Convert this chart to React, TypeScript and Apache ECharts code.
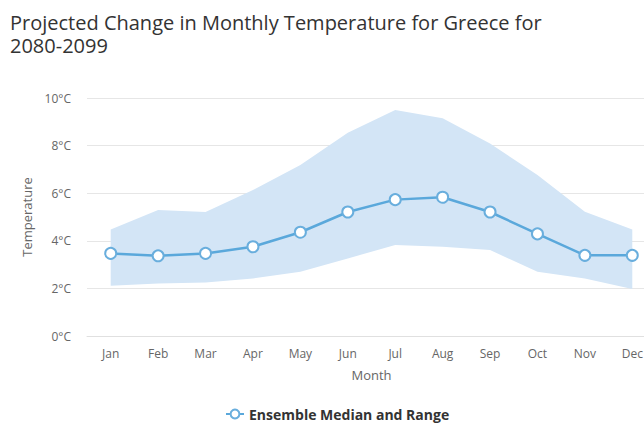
import React, { useEffect, useRef } from "react";
import * as echarts from "echarts";

const months = ["Jan", "Feb", "Mar", "Apr", "May", "Jun", "Jul", "Aug", "Sep", "Oct", "Nov", "Dec"];
const median = [3.47, 3.37, 3.47, 3.75, 4.36, 5.21, 5.73, 5.83, 5.21, 4.29, 3.39, 3.39];
const upper = [4.48, 5.29, 5.21, 6.13, 7.18, 8.54, 9.5, 9.15, 8.09, 6.76, 5.22, 4.48];
const lower = [2.11, 2.21, 2.25, 2.42, 2.7, 3.26, 3.82, 3.75, 3.61, 2.7, 2.42, 1.97];
const yTicks = [0, 2, 4, 6, 8, 10];

const FONT = "'Open Sans', 'Noto Sans', sans-serif";

export default function App() {
  const ref = useRef<HTMLDivElement>(null);
  useEffect(() => {
    if (!ref.current) return;
    const chart = echarts.init(ref.current, null, { renderer: "svg" });
    const band = upper.map((u, i) => +(u - lower[i]).toFixed(3));
    chart.setOption({
      animation: false,
      textStyle: { fontFamily: FONT },
      title: {
        text: "Projected Change in Monthly Temperature for Greece for",
        subtext: "2080-2099",
        left: 5,
        top: 6,
        itemGap: 0,
        textStyle: { fontFamily: FONT, fontSize: 20, fontWeight: "normal", color: "#333333", lineHeight: 23 },
        subtextStyle: { fontFamily: FONT, fontSize: 20, fontWeight: "normal", color: "#333333", lineHeight: 23 },
      },
      legend: {
        top: 402,
        left: 220,
        data: ["Ensemble Median and Range"],
        itemWidth: 18,
        itemHeight: 11,
        itemGap: 6,
        textStyle: { fontFamily: FONT, fontSize: 14, fontWeight: "bold", color: "#333333" },
      },
      grid: { left: 87, right: 0, top: 98, bottom: 87, containLabel: false },
      xAxis: {
        type: "category",
        data: months,
        boundaryGap: true,
        name: "Month",
        nameLocation: "middle",
        nameGap: 32,
        nameTextStyle: { color: "#666666", fontSize: 13, fontFamily: FONT },
        axisLine: { lineStyle: { color: "#e0e0e0" } },
        axisTick: { show: false },
        axisLabel: { color: "#666666", fontSize: 12, margin: 11, fontFamily: FONT },
      },
      yAxis: {
        type: "value",
        min: 0,
        max: 10,
        interval: 2,
        name: "Temperature",
        nameLocation: "middle",
        nameGap: 54,
        nameTextStyle: { color: "#666666", fontSize: 13, fontFamily: FONT },
        axisLine: { show: false },
        axisTick: { show: false },
        axisLabel: {
          color: "#666666",
          fontSize: 12,
          margin: 16,
          fontFamily: FONT,
          formatter: (v: number) => (yTicks.includes(v) ? v + "°C" : ""),
        },
        splitLine: { lineStyle: { color: "#e6e6e6" } },
      },
      series: [
        {
          name: "lower",
          type: "line",
          data: lower,
          stack: "range",
          symbol: "none",
          lineStyle: { opacity: 0 },
          silent: true,
        },
        {
          name: "range",
          type: "line",
          data: band,
          stack: "range",
          symbol: "none",
          lineStyle: { opacity: 0 },
          areaStyle: { color: "#d3e5f6", opacity: 1 },
          silent: true,
        },
        {
          name: "Ensemble Median and Range",
          type: "line",
          data: median,
          symbol: "circle",
          symbolSize: 11,
          itemStyle: { color: "#ffffff", borderColor: "#69aedd", borderWidth: 2 },
          lineStyle: { color: "#5aa8db", width: 2.5 },
          z: 5,
        },
      ],
    });
    return () => chart.dispose();
  }, []);
  return (
    <div style={{ position: "fixed", left: 0, top: 0, width: 644, height: 423, background: "#fff", overflow: "hidden" }}>
      <div ref={ref} style={{ width: 656, height: 423 }} />
    </div>
  );
}
